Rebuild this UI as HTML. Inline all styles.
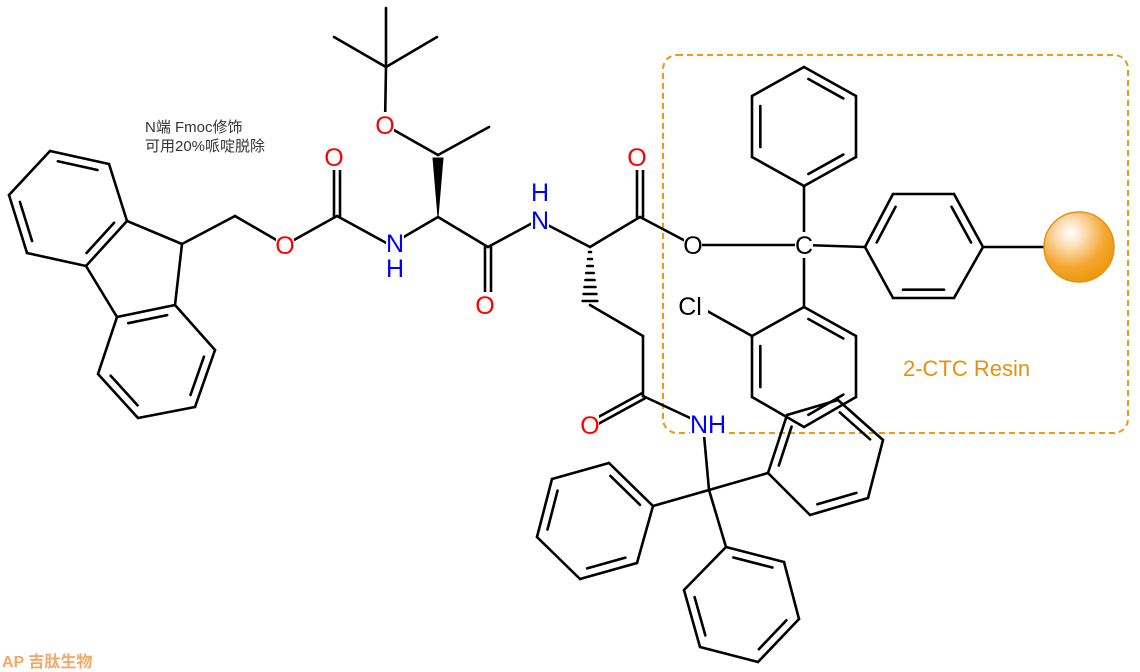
<!DOCTYPE html>
<html><head><meta charset="utf-8"><style>
html,body{margin:0;padding:0;background:#fff;width:1140px;height:672px;overflow:hidden}
svg{display:block}
text{font-family:"Liberation Sans","Noto Sans CJK SC",sans-serif}
</style></head><body>
<svg id="s" width="1140" height="672" viewBox="0 0 1140 672" xmlns="http://www.w3.org/2000/svg">
<defs><radialGradient id="g" cx="0.38" cy="0.3" r="0.7">
<stop offset="0" stop-color="#fff"/><stop offset="0.25" stop-color="#fde2c0"/><stop offset="0.7" stop-color="#f5a630"/><stop offset="1" stop-color="#ec9a10"/></radialGradient></defs>
<rect x="663" y="55" width="465" height="378" rx="14" fill="none" stroke="#ee9a10" stroke-width="2" stroke-dasharray="6,4"/>
<g id="b" stroke="#000" stroke-width="2.6" fill="none" stroke-linecap="round"></g>
<g id="t"></g>
<circle cx="1079" cy="247" r="35" fill="url(#g)" stroke="#e39312" stroke-width="1.5"/>
<text x="903" y="376" font-size="22" fill="#e8900c">2-CTC Resin</text>
<text x="145" y="132" font-size="15" fill="#333">N端 Fmoc修饰</text>
<text x="145" y="151" font-size="15" fill="#333">可用20%哌啶脱除</text>
<text x="2" y="667" font-size="16" fill="#f2a868" font-weight="bold">AP 吉肽生物</text>
</svg>
<script>
var B=document.getElementById('b'),T=document.getElementById('t'),NS='http://www.w3.org/2000/svg';
function el(p,n,a){var e=document.createElementNS(NS,n);for(var k in a)e.setAttribute(k,a[k]);p.appendChild(e);return e;}
function L(a,b,c,d){el(B,'line',{x1:a,y1:b,x2:c,y2:d});}
function D(a,b,c,d){var dx=c-a,dy=d-b,l=Math.hypot(dx,dy),ox=-dy/l*3,oy=dx/l*3;L(a+ox,b+oy,c+ox,d+oy);L(a-ox,b-oy,c-ox,d-oy);}
function ring(P,dbl){var cx=0,cy=0;P.forEach(function(p){cx+=p[0];cy+=p[1]});cx/=P.length;cy/=P.length;
for(var i=0;i<P.length;i++){var p=P[i],q=P[(i+1)%P.length];L(p[0],p[1],q[0],q[1]);}
dbl.forEach(function(i){var p=P[i],q=P[(i+1)%P.length];var f=0.16;
var x1=p[0]+(cx-p[0])*f,y1=p[1]+(cy-p[1])*f,x2=q[0]+(cx-q[0])*f,y2=q[1]+(cy-q[1])*f;
var sx=(x2-x1)*0.1,sy=(y2-y1)*0.1;L(x1+sx,y1+sy,x2-sx,y2-sy);});}
function lab(x,y,s,c){el(T,'rect',{x:x-9*s.length,y:y-13,width:18*s.length,height:26,fill:'#fff'});var t=el(T,'text',{x:x,y:y+9,'font-size':25,fill:c,'text-anchor':'middle'});t.textContent=s;}
// fluorene
ring([[50,151],[109,164],[127,221],[86,266],[27,253],[9,195]],[0,2,4]);
ring([[117,317],[175,305],[215,350],[195,407],[138,418],[98,374]],[0,2,4]);
L(86,266,117,317);
L(127,221,182,244);L(182,244,175,305);
L(182,244,235,216);L(235,216,285,245);L(285,245,337,216);D(337,216,337,157);
L(337,216,390,245);L(390,245,438,217);
// Thr
el(B,'polygon',{points:'438,217 433,158 443,158',fill:'#000','stroke-width':1});
L(438,155,489,127);L(438,155,385,125);L(385,125,386,67);L(386,67,386,8);L(386,67,334,37);L(386,67,437,37);
L(438,217,488,247);D(488,247,488,305);L(488,247,538,220);L(538,220,590,247);
// Gln
L(590,247,640,217);D(640,217,640,157);L(640,217,693,245);L(693,245,804,245);
for(var i=0;i<8;i++){var y=252+i*7,w=1+i*0.9;L(590-w,y,590+w,y);}
L(590,305,643,336);L(643,336,643,396);D(643,396,590,425);L(643,396,703,424);
// trityl
L(703,424,709,490);L(709,490,653,506);L(709,490,726,547);L(709,490,768,473);
ring([[653,506],[609,463],[552,479],[537,537],[580,579],[637,563]],[0,2,4]);
ring([[726,547],[784,562],[799,619],[758,662],[700,647],[684,590]],[0,2,4]);
ring([[768,473],[787,415],[838,400],[883,440],[868,498],[810,515]],[0,2,4]);
// resin trityl
L(804,245,804,186);L(804,245,865,247);L(804,245,804,307);L(983,247,1044,247);
ring([[804,67],[856,96],[856,157],[804,186],[752,157],[752,96]],[0,2,4]);
ring([[865,247],[893,194],[954,194],[983,247],[954,298],[893,298]],[0,2,4]);
ring([[804,307],[856,336],[856,397],[804,427],[752,397],[752,336]],[0,2,4]);
L(752,336,700,307);
// labels
lab(285,245,'O','#f00');lab(334,157,'O','#f00');lab(485,305,'O','#f00');lab(637,157,'O','#f00');
lab(385,125,'O','#f00');lab(693,245,'O','#000');lab(590,425,'O','#f00');
lab(395,243,'N','#00f');lab(395,268,'H','#00f');lab(540,220,'N','#00f');lab(540,192,'H','#00f');
lab(708,424,'NH','#00f');lab(804,245,'C','#000');lab(690,306,'Cl','#000');
</script>
</body></html>
